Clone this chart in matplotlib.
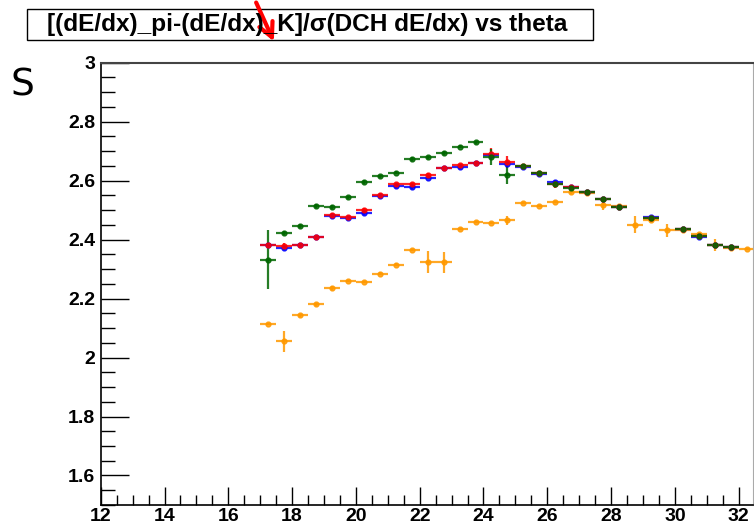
import numpy as np
import matplotlib
matplotlib.use("Agg")
import matplotlib.pyplot as plt
from matplotlib.ticker import MultipleLocator
from matplotlib.patches import Rectangle, FancyArrowPatch

######## DATA ########
nan = np.nan
theta = [17.25, 17.75, 18.25, 18.75, 19.25, 19.75, 20.25, 20.75, 21.25, 21.75,
         22.25, 22.75, 23.25, 23.75, 24.25, 24.75, 25.25, 25.75, 26.25, 26.75,
         27.25, 27.75, 28.25, 28.75, 29.25, 29.75, 30.25, 30.75, 31.25, 31.75, 32.25]

s_blue = [2.380, 2.372, 2.381, 2.409, 2.481, 2.474, 2.491, 2.547, 2.582, 2.579,
          2.610, 2.643, 2.647, 2.660, 2.688, 2.658, 2.647, 2.624, 2.594, 2.578,
          2.561, 2.538, 2.510, nan, 2.475, nan, 2.435, 2.408, 2.381, 2.375, nan]
s_red = [2.381, 2.379, 2.381, 2.409, 2.483, 2.475, 2.500, 2.551, 2.587, 2.587,
         2.619, 2.643, 2.652, 2.660, 2.691, 2.662, 2.649, 2.625, 2.587, 2.579,
         2.562, 2.536, 2.511, nan, 2.473, nan, 2.435, 2.413, 2.381, 2.375, nan]
s_green = [2.332, 2.423, 2.447, 2.514, 2.511, 2.543, 2.595, 2.614, 2.627, 2.674,
           2.679, 2.694, 2.715, 2.730, 2.679, 2.619, 2.649, 2.625, 2.587, 2.576,
           2.560, 2.536, 2.510, nan, 2.472, nan, 2.436, 2.413, 2.381, 2.375, nan]
s_orange = [2.113, 2.055, 2.143, 2.180, 2.236, 2.260, 2.256, 2.285, 2.315, 2.364,
            2.323, 2.323, 2.435, 2.459, 2.456, 2.466, 2.524, 2.514, 2.528, 2.560,
            2.557, 2.519, 2.513, 2.451, 2.466, 2.432, 2.434, 2.418, 2.381, 2.373, 2.368]

e_blue = [0.006, 0.006, 0.006, 0.006, 0.006, 0.006, 0.006, 0.006, 0.006, 0.006,
          0.006, 0.006, 0.006, 0.006, 0.010, 0.010, 0.006, 0.006, 0.008, 0.006,
          0.006, 0.006, 0.006, 0.0, 0.006, 0.0, 0.006, 0.006, 0.006, 0.006, 0.0]
e_red = [0.006, 0.008, 0.006, 0.006, 0.006, 0.006, 0.008, 0.006, 0.006, 0.006,
         0.006, 0.006, 0.006, 0.006, 0.020, 0.020, 0.006, 0.006, 0.012, 0.006,
         0.006, 0.006, 0.006, 0.0, 0.006, 0.0, 0.006, 0.006, 0.006, 0.006, 0.0]
e_green = [0.100, 0.006, 0.006, 0.006, 0.006, 0.006, 0.006, 0.006, 0.006, 0.006,
           0.006, 0.006, 0.006, 0.006, 0.027, 0.030, 0.006, 0.006, 0.006, 0.006,
           0.006, 0.006, 0.006, 0.0, 0.006, 0.0, 0.006, 0.006, 0.006, 0.006, 0.0]
e_orange = [0.004, 0.035, 0.004, 0.006, 0.006, 0.004, 0.004, 0.004, 0.006, 0.004,
            0.037, 0.035, 0.004, 0.004, 0.004, 0.015, 0.004, 0.004, 0.004, 0.004,
            0.006, 0.020, 0.006, 0.030, 0.006, 0.022, 0.006, 0.006, 0.020, 0.006, 0.004]

half_bin = 0.25

######## PLOT ########
plt.rcParams['font.family'] = ['Liberation Sans', 'DejaVu Sans']

W, H = 754, 528
fig = plt.figure(figsize=(W / 100, H / 100), dpi=100)
ax = fig.add_axes([0.1336, 0.0436, 0.8651, 0.8377])

series = [
    (s_orange, e_orange, '#ff9900'),
    (s_blue, e_blue, '#0000ff'),
    (s_red, e_red, '#ff0000'),
    (s_green, e_green, '#006600'),
]
for vals, errs, col in series:
    ax.errorbar(theta, vals, yerr=errs, xerr=half_bin, fmt='o', color=col,
                markersize=3.5, elinewidth=1.6, capsize=0, alpha=0.85)

ax.set_xlim(12, 32.45)
ax.set_ylim(1.5, 3.0)

ax.xaxis.set_major_locator(MultipleLocator(2))
ax.xaxis.set_minor_locator(MultipleLocator(0.5))
ax.yaxis.set_minor_locator(MultipleLocator(0.05))
ax.set_yticks([1.6, 1.8, 2.0, 2.2, 2.4, 2.6, 2.8, 3.0])
ax.set_yticklabels(['1.6', '1.8', '2', '2.2', '2.4', '2.6', '2.8', '3'])

ax.tick_params(axis='x', which='major', direction='in', length=13, width=1, labelsize=14, pad=2)
ax.tick_params(axis='x', which='minor', direction='in', length=7, width=1)
ax.tick_params(axis='y', which='major', direction='in', length=20, width=1, labelsize=14, pad=4)
ax.tick_params(axis='y', which='minor', direction='in', length=10, width=1)
for lab in ax.get_xticklabels() + ax.get_yticklabels():
    lab.set_fontweight('bold')

for side in ['left', 'bottom']:
    ax.spines[side].set_linewidth(1.2)
ax.spines['top'].set_linewidth(1.5)
ax.spines['top'].set_color('#444444')
ax.spines['right'].set_color('#aaaaaa')

# title box
fig.add_artist(Rectangle((27 / W, 1 - 40 / H), 566 / W, 31 / H, transform=fig.transFigure,
                         facecolor='white', edgecolor='black', linewidth=1))
fig.text(47 / W, 1 - 24.5 / H, '[(dE/dx)_pi-(dE/dx)_K]/σ(DCH dE/dx) vs theta',
         fontsize=17.6, fontweight='bold', ha='left', va='center')

# red arrow
fig.add_artist(FancyArrowPatch((255 / W, 1.0), (275 / W, 1 - 44 / H), transform=fig.transFigure,
                               arrowstyle='->', color='red', lw=3, mutation_scale=26))

# y label
fig.text(22 / W, 1 - 86 / H, 'S', fontsize=27, ha='center', va='center',
         family='DejaVu Sans')

fig.savefig('out.png', dpi=100)
